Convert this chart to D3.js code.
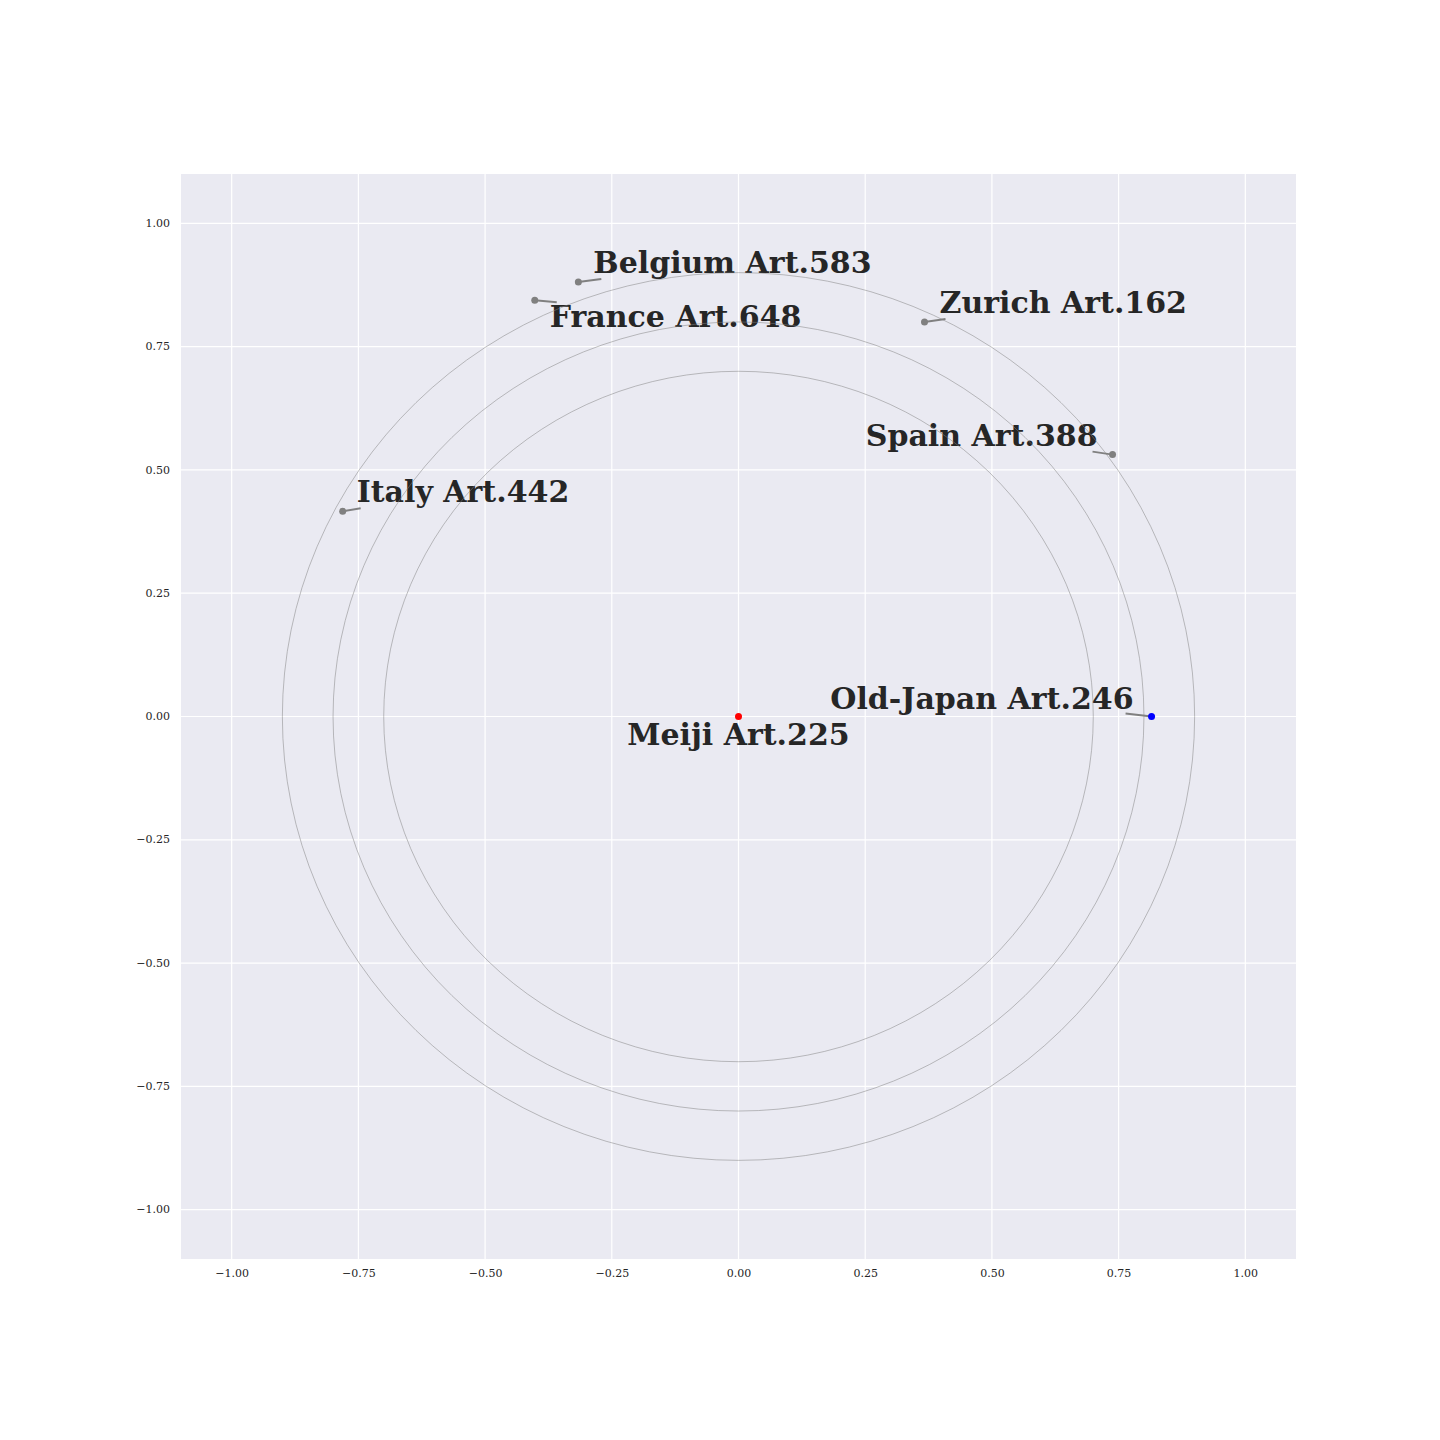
<!DOCTYPE html>
<html><head><meta charset="utf-8">
<script src="https://cdn.jsdelivr.net/npm/d3@7"></script>
<style>body{margin:0;background:#fff}svg{display:block}</style>
</head><body>
<script>
const names = ["Meiji Art.225","Old-Japan Art.246","Spain Art.388","Zurich Art.162","Belgium Art.583","France Art.648","Italy Art.442"];
const xs = [0, 0.815, 0.738, 0.367, -0.316, -0.402, -0.781];
const ys = [0, 0, 0.531, 0.800, 0.881, 0.844, 0.416];
const colors = ["red","blue","grey","grey","grey","grey","grey"];
const radii = [0.7, 0.8, 0.9];
const ticks = [-1.0,-0.75,-0.5,-0.25,0,0.25,0.5,0.75,1.0];

// label layout (pixel offsets from point to text anchor), anchors, leader ends
const labelDx = [0, -18, -15, 15, 15, 15, 14];
const labelDy = [28, -8, -9, -9, -9, 27, -9];
const anchors = ["middle","end","end","start","start","start","start"];
const leadDx = [0, -26, -20, 21, 23, 22, 18];
const leadDy = [0, -3, -3, -3, -3, 2, -3];

const W=1440,H=1440;
const L=181,R=1296,T=174,B=1259;
const x=d3.scaleLinear().domain([-1.1,1.1]).range([L,R]);
const y=d3.scaleLinear().domain([-1.1,1.1]).range([B,T]);
const svg=d3.select("body").append("svg").attr("width",W).attr("height",H);
svg.append("rect").attr("x",L).attr("y",T).attr("width",R-L).attr("height",B-T).attr("fill","#EAEAF2");
const g=svg.append("g");
g.selectAll(".gx").data(ticks).join("line").attr("x1",d=>x(d)).attr("x2",d=>x(d)).attr("y1",T).attr("y2",B).attr("stroke","#fff").attr("stroke-width",1.2);
g.selectAll(".gy").data(ticks).join("line").attr("y1",d=>y(d)).attr("y2",d=>y(d)).attr("x1",L).attr("x2",R).attr("stroke","#fff").attr("stroke-width",1.2);
const fmt=d=>d3.format(".2f")(d).replace("-","\u2212");
const xa=svg.append("g").attr("transform",`translate(0,${B})`).call(d3.axisBottom(x).tickValues(ticks).tickFormat(fmt).tickSize(0).tickPadding(10));
const ya=svg.append("g").attr("transform",`translate(${L},0)`).call(d3.axisLeft(y).tickValues(ticks).tickFormat(fmt).tickSize(0).tickPadding(11));
[xa,ya].forEach(a=>{a.select(".domain").remove();a.selectAll("text").attr("font-family","DejaVu Serif").attr("font-size",11).attr("fill","#262626");});
ya.selectAll("text").attr("dy","0.28em");

// leader lines
const idx=d3.range(names.length);
svg.selectAll(".lead").data(idx.filter(i=>leadDx[i]!==0)).join("line")
 .attr("x1",i=>x(xs[i])).attr("y1",i=>y(ys[i])).attr("x2",i=>x(xs[i])+leadDx[i]).attr("y2",i=>y(ys[i])+leadDy[i])
 .attr("stroke","grey").attr("stroke-width",2);
// labels
svg.selectAll(".lab").data(idx).join("text")
 .attr("x",i=>x(xs[i])+labelDx[i]).attr("y",i=>y(ys[i])+labelDy[i]).attr("text-anchor",i=>anchors[i])
 .attr("font-family","DejaVu Serif").attr("font-weight","bold").attr("font-size",30).attr("fill","#262626").text(i=>names[i]);
// circles
svg.selectAll(".circ").data(radii).join("ellipse").attr("cx",x(0)).attr("cy",y(0))
 .attr("rx",d=>x(d)-x(0)).attr("ry",d=>y(0)-y(d)).attr("fill","none").attr("stroke","grey").attr("stroke-width",0.5);
// points
svg.selectAll(".pt").data(idx).join("circle").attr("cx",i=>x(xs[i])).attr("cy",i=>y(ys[i])).attr("r",3.5).attr("fill",i=>colors[i]);
</script>
</body></html>
